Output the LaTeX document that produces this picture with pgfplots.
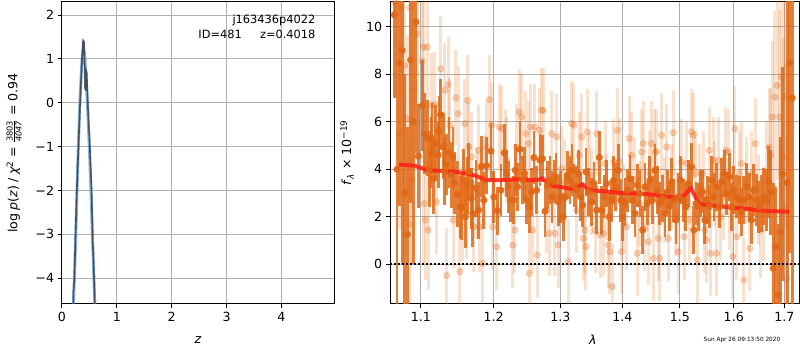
\documentclass[border=0pt]{standalone}
\usepackage{pgfplots}
\pgfplotsset{compat=1.18}
\usepackage{pgfplotstable}
\usepackage{fontspec}
\setmainfont{DejaVu Sans}
\definecolor{dk}{RGB}{223,104,22}
\definecolor{gridgray}{RGB}{176,176,176}
\definecolor{pzdark}{RGB}{52,64,78}
\definecolor{pzblue}{RGB}{95,150,200}
\definecolor{modelred}{RGB}{255,30,20}

\pgfplotstableread{
l f e
1.0655 10.5 3.5
1.0688 4.0 9.0
1.0718 8.47 6.0
1.0755 9.0 9.0
1.0790 3.0 5.0
1.0823 1.26 4.5
1.0865 8.6 6.0
1.0900 6.0 6.0
1.0934 10.2 5.5
1.0965 4.55 2.2
1.1017 6.68 1.9
1.1044 5.50 1.7
1.1088 5.30 1.6
1.1110 4.00 1.6
1.1133 4.70 1.5
1.1146 5.30 1.5
1.1165 3.60 1.5
1.1195 5.10 1.6
1.1229 4.60 1.4
1.1240 5.60 1.5
1.1261 6.30 1.5
1.1301 4.97 1.4
1.1320 3.90 1.4
1.1341 4.20 1.3
1.1376 4.70 1.5
1.1408 3.75 1.4
1.1430 4.50 1.3
1.1449 3.43 1.3
1.1490 2.95 1.4
1.1526 2.42 1.3
1.1546 2.42 1.4
1.1573 3.55 1.3
1.1600 2.00 1.3
1.1628 3.33 1.2
1.1650 3.90 1.2
1.1684 2.77 1.3
1.1706 2.13 1.4
1.1750 3.20 1.2
1.1785 2.28 1.2
1.1823 4.12 1.3
1.1860 2.70 1.2
1.1902 4.15 1.2
1.1962 4.76 1.2
1.2004 2.84 1.1
1.2053 2.25 1.0
1.2106 3.12 1.1
1.2154 4.69 1.2
1.2188 3.82 1.0
1.2212 3.26 1.1
1.2247 2.70 0.9
1.2286 2.70 1.0
1.2315 3.96 1.1
1.2351 3.26 1.0
1.2385 4.84 1.2
1.2419 3.54 1.0
1.2454 3.82 1.1
1.2485 2.70 1.0
1.2524 2.42 1.1
1.2560 3.05 1.0
1.2594 4.49 1.1
1.2635 3.12 1.0
1.2685 4.38 1.1
1.2725 4.45 1.0
1.2761 2.23 1.1
1.2796 3.33 1.0
1.2838 3.54 1.0
1.2869 2.84 1.1
1.2900 3.47 0.9
1.2931 3.68 1.0
1.2966 2.63 1.0
1.3002 2.84 1.1
1.3044 2.00 1.0
1.3071 2.81 0.9
1.3107 3.75 1.0
1.3149 3.54 1.0
1.3180 3.96 1.1
1.3212 3.33 0.9
1.3244 3.12 1.0
1.3281 3.82 1.0
1.3319 2.84 1.0
1.3350 2.49 0.9
1.3403 3.89 1.0
1.3440 3.05 1.0
1.3496 2.63 1.0
1.3533 3.40 0.9
1.3577 2.28 1.0
1.3620 4.50 1.1
1.3659 2.28 1.0
1.3696 2.84 0.9
1.3740 3.40 1.0
1.3783 2.00 1.0
1.3822 2.70 0.9
1.3860 3.54 1.0
1.3893 3.26 1.0
1.3932 3.96 1.1
1.3972 2.70 0.9
1.4005 2.00 1.0
1.4044 2.63 1.0
1.4083 3.12 0.9
1.4129 3.60 1.0
1.4175 2.70 1.0
1.4214 2.14 1.0
1.4253 3.33 0.9
1.4299 2.98 1.0
1.4345 1.44 1.0
1.4385 3.26 1.0
1.4425 2.56 0.9
1.4471 3.54 1.0
1.4518 2.70 1.0
1.4558 3.96 1.1
1.4598 3.12 1.0
1.4645 2.56 0.9
1.4693 2.77 1.0
1.4734 2.14 1.0
1.4774 3.05 0.9
1.4810 2.42 1.0
1.4852 3.47 1.0
1.4893 2.70 0.9
1.4929 1.86 1.0
1.4970 2.84 1.0
1.5013 3.54 1.0
1.5060 2.70 0.9
1.5109 2.42 1.0
1.5151 3.40 1.0
1.5212 4.10 1.0
1.5254 1.44 1.0
1.5291 2.56 0.9
1.5333 2.42 1.0
1.5377 2.98 1.0
1.5414 3.05 0.9
1.5456 1.86 1.0
1.5499 2.70 1.0
1.5536 2.42 0.9
1.5581 3.54 1.0
1.5624 2.84 1.0
1.5674 3.26 1.0
1.5723 2.42 0.9
1.5768 3.47 1.0
1.5818 3.82 1.0
1.5863 2.98 0.9
1.5913 3.68 1.0
1.5958 2.42 1.0
1.6002 3.12 1.0
1.6054 2.84 0.9
1.6104 2.70 1.0
1.6150 2.21 1.0
1.6195 2.70 1.0
1.6247 3.26 1.0
1.6297 2.84 1.0
1.6344 1.86 1.0
1.6390 3.12 1.1
1.6443 2.70 1.1
1.6488 2.42 1.1
1.6534 2.56 1.2
1.6587 2.84 1.2
1.6641 2.70 1.3
1.6686 3.47 1.5
1.6726 3.02 1.8
1.6773 -0.17 3.6
1.6827 0.74 2.5
1.6874 -1.30 3.0
1.6922 1.37 4.0
1.6960 3.80 4.5
1.7057 3.43 9.0
1.7111 8.47 8.0
1.7158 7.00 9.0
}\darkdata

\pgfplotstableread{
l f e
1.0670 11.0 4.0
1.0720 5.5 4.0
1.0745 10.8 4.0
1.0790 8.37 4.0
1.0820 6.13 3.5
1.0847 1.69 3.5
1.0860 10.8 4.0
1.0882 3.54 3.5
1.0908 7.35 3.0
1.0950 9.7 3.0
1.1017 8.54 2.5
1.1033 9.14 2.5
1.1040 2.56 2.5
1.1060 1.86 2.5
1.1083 9.14 2.5
1.1096 1.44 2.5
1.1141 6.69 2.2
1.1184 6.73 2.2
1.1207 2.63 2.2
1.1264 8.23 2.2
1.1321 7.32 2.0
1.1345 -0.47 2.0
1.1364 7.56 2.0
1.1389 5.85 2.0
1.1432 1.86 2.0
1.1470 7.01 2.0
1.1500 6.34 2.0
1.1526 -0.31 2.0
1.1560 2.14 2.0
1.1591 5.92 1.9
1.1610 2.14 1.9
1.1632 6.90 1.9
1.1650 4.94 1.9
1.1684 4.52 1.9
1.1715 1.58 1.9
1.1751 2.98 1.9
1.1786 4.80 1.9
1.1800 1.58 1.9
1.1841 0.04 1.9
1.1866 3.54 1.9
1.1900 4.94 1.9
1.1938 6.93 1.9
1.1972 5.85 1.8
1.1987 1.58 1.8
1.2044 0.74 1.8
1.2082 5.78 1.8
1.2117 5.71 1.8
1.2165 4.73 1.8
1.2190 4.38 1.8
1.2277 0.81 1.8
1.2311 1.44 1.8
1.2336 4.94 1.8
1.2375 6.41 1.8
1.2410 6.20 1.8
1.2474 5.50 1.8
1.2509 5.08 1.8
1.2524 -0.38 1.8
1.2545 5.78 1.8
1.2575 1.44 1.8
1.2610 5.78 1.8
1.2644 0.39 1.8
1.2674 5.64 1.8
1.2711 6.48 1.8
1.2735 6.48 1.8
1.2787 2.28 1.8
1.2827 1.30 1.8
1.2864 5.50 1.8
1.2915 1.30 1.8
1.2941 5.36 1.8
1.2966 0.81 1.8
1.3019 4.03 1.8
1.3071 3.47 1.8
1.3123 0.11 1.8
1.3176 5.92 1.8
1.3213 5.85 1.8
1.3255 2.28 1.8
1.3297 4.59 1.8
1.3335 5.36 1.8
1.3361 1.09 1.8
1.3388 1.44 1.8
1.3404 0.74 1.8
1.3425 5.57 1.8
1.3468 3.75 1.8
1.3495 3.05 1.8
1.3550 1.44 1.8
1.3577 5.50 1.8
1.3631 1.23 1.8
1.3685 1.30 1.8
1.3713 4.24 1.8
1.3740 2.84 1.8
1.3766 0.81 1.8
1.3794 0.53 1.8
1.3832 -0.94 1.8
1.3860 4.31 1.8
1.3915 5.64 1.8
1.3948 4.31 1.8
1.3989 0.53 1.8
1.4016 2.42 1.8
1.4073 1.58 1.8
1.4117 5.29 1.8
1.4158 4.59 1.8
1.4214 3.54 1.8
1.4253 0.46 1.8
1.4287 2.56 1.8
1.4328 4.73 1.8
1.4356 5.08 1.8
1.4385 1.51 1.8
1.4442 0.95 1.8
1.4471 3.82 1.8
1.4501 5.08 1.8
1.4528 0.25 1.8
1.4558 4.73 1.8
1.4588 4.73 1.8
1.4616 1.09 1.8
1.4645 0.25 1.8
1.4675 5.43 1.8
1.4734 2.70 1.8
1.4763 4.94 1.8
1.4792 1.09 1.8
1.4852 3.26 1.8
1.4881 5.54 1.8
1.4929 2.14 1.8
1.4970 0.53 1.8
1.5031 4.31 1.8
1.5078 1.16 1.8
1.5121 4.24 1.8
1.5168 1.86 1.8
1.5212 5.57 1.8
1.5242 5.43 1.8
1.5291 3.82 1.8
1.5315 0.18 1.8
1.5364 3.26 1.8
1.5425 3.82 1.8
1.5456 1.44 1.8
1.5487 1.02 1.8
1.5536 4.80 1.8
1.5562 0.46 1.8
1.5611 4.38 1.8
1.5642 3.40 1.8
1.5674 0.46 1.8
1.5704 4.38 1.8
1.5749 2.00 1.8
1.5799 2.84 1.8
1.5850 4.80 1.8
1.5894 4.73 1.8
1.5926 2.42 1.8
1.5978 0.32 1.8
1.6022 5.71 1.8
1.6054 1.16 1.8
1.6104 3.82 1.8
1.6150 4.24 1.8
1.6195 -0.66 1.8
1.6247 3.54 1.8
1.6311 0.67 1.8
1.6344 3.82 1.8
1.6415 5.08 1.9
1.6474 2.70 1.9
1.6522 1.44 2.0
1.6573 2.14 2.0
1.6641 3.82 2.2
1.6692 4.94 2.5
1.6720 4.59 2.8
1.6760 6.20 3.2
1.6807 7.04 3.6
1.6853 7.53 4.0
1.6908 6.20 4.5
1.6942 7.88 5.0
1.6975 4.52 5.0
1.6995 7.04 5.5
1.7029 2.42 6.0
1.7043 -0.60 6.0
}\lightdata

\begin{document}
\begin{tikzpicture}
\useasboundingbox (0,0) rectangle (800pt,350pt);
\pgfplotsset{
  every axis/.append style={
    scale only axis, anchor=south west,
    grid=major, grid style={color=gridgray, line width=1pt},
    axis line style={line width=1pt},
    tick style={black, line width=1pt},
    tick align=outside, major tick length=4.4pt,
    xtick pos=lower, ytick pos=left,
    tick label style={font=\fontsize{12.6}{14}\selectfont},
    label style={font=\fontsize{12.6}{14}\selectfont},
    /pgf/number format/assume math mode=true,
  }
}
% left panel
\begin{axis}[
  at={(62pt,46pt)}, width=272pt, height=302pt,
  xmin=0, xmax=4.96, ymin=-4.59, ymax=2.30,
  xtick={0,1,2,3,4},
  ytick={-4,-3,-2,-1,0,1,2},
  yticklabels={−4,−3,−2,−1,0,1,2},
  xlabel={\textit{z}},
  x label style={at={(axis description cs:0.5,-0.119)}, anchor=center},
  ylabel={log\hspace{0.25em}\textit{p}(\textit{z})\hspace{0.25em}/\hspace{0.25em}\textit{χ}\textsuperscript{2}\hspace{0.3em}=\hspace{0.3em}$\frac{\mbox{\fontsize{8.2}{9}\selectfont 3803}}{\mbox{\fontsize{8.2}{9}\selectfont\itshape 4047}}$\hspace{0.3em}=\hspace{0.3em}0.94},
  y label style={at={(axis description cs:-0.176,0.5)}, anchor=center},
]
\addplot[pzblue, line width=3pt, opacity=0.7] coordinates {
(0.205,-4.7)(0.23,-3.9)(0.26,-2.6)(0.29,-1.3)(0.32,-0.2)(0.35,0.65)(0.375,1.15)(0.39,1.28)(0.41,1.15)(0.44,0.55)(0.47,-0.2)(0.50,-1.05)(0.53,-2.1)(0.56,-3.2)(0.59,-4.3)(0.605,-4.7)
};
\addplot[pzdark, line width=1.6pt, opacity=0.85] coordinates {
(0.207,-4.75)(0.207,-4.35)(0.225,-4.0)(0.27,-2.0)(0.33,0.0)(0.365,1.0)(0.385,1.42)(0.40,1.40)(0.41,0.95)(0.42,0.35)(0.43,0.28)(0.435,0.75)(0.45,0.70)(0.46,0.35)(0.47,0.0)(0.49,-0.6)(0.495,-0.65)(0.54,-2.0)(0.56,-3.2)(0.565,-3.3)(0.585,-4.0)(0.60,-4.75)
};
\node[anchor=east, font=\fontsize{11.4}{13}\selectfont] at (axis description cs:0.945,0.9404) {j163436p4022};
\node[anchor=east, font=\fontsize{11.4}{13}\selectfont] at (axis description cs:0.945,0.893) {ID=481\hspace{1.6em}z=0.4018};
\end{axis}
% right panel
\begin{axis}[
  at={(390pt,46pt)}, width=409pt, height=302pt,
  xmode=log, xmin=1.06, xmax=1.73, ymin=-1.67, ymax=11.04,
  xtick={1.1,1.2,1.3,1.4,1.5,1.6,1.7},
  xticklabels={1.1,1.2,1.3,1.4,1.5,1.6,1.7},
  minor xtick={},
  ytick={0,2,4,6,8,10},
  yticklabels={0,2,4,6,8,10},
  xlabel={\textit{λ}},
  x label style={at={(axis description cs:0.496,-0.119)}, anchor=center},
  ylabel={\textit{f}\textsubscript{\textit{λ}} × 10\textsuperscript{−19}},
  y label style={at={(axis description cs:-0.105,0.5)}, anchor=center},
]
\addplot[only marks, mark=*, mark size=3.3pt, dk,
  mark options={fill=dk, draw=none, opacity=0.3},
  error bars/.cd, y dir=both, y explicit, error mark=none,
  error bar style={line width=3pt, color=dk, opacity=0.2}]
  table[x=l, y=f, y error=e] {\lightdata};
\addplot[only marks, mark=*, mark size=3.3pt, dk,
  mark options={fill=dk, draw=none, opacity=0.92},
  error bars/.cd, y dir=both, y explicit, error mark=none,
  error bar style={line width=2.8pt, color=dk, opacity=0.85}]
  table[x=l, y=f, y error=e] {\darkdata};
\addplot[modelred, line width=4pt, opacity=0.85] coordinates {
(1.0716,4.20)(1.092,4.15)(1.1076,3.97)(1.1436,3.90)(1.163,3.82)(1.175,3.72)(1.190,3.54)(1.209,3.54)(1.233,3.58)(1.258,3.54)(1.266,3.56)(1.272,3.62)(1.284,3.33)(1.305,3.23)(1.321,3.16)(1.330,3.30)(1.335,3.37)(1.343,3.16)(1.36,3.09)(1.398,3.01)(1.444,2.95)(1.48,2.84)(1.50,2.77)(1.51,2.95)(1.519,3.22)(1.525,2.98)(1.535,2.53)(1.566,2.46)(1.63,2.32)(1.66,2.25)(1.71,2.21)
};
\addplot[black, line width=1.7pt, dash pattern=on 1.7pt off 2.3pt] coordinates {(1.06,0)(1.73,0)};
\end{axis}
\node[font=\fontsize{5.8}{6}\selectfont] at (742pt,10pt) {Sun Apr 26 09:13:50 2020};
\end{tikzpicture}
\end{document}
